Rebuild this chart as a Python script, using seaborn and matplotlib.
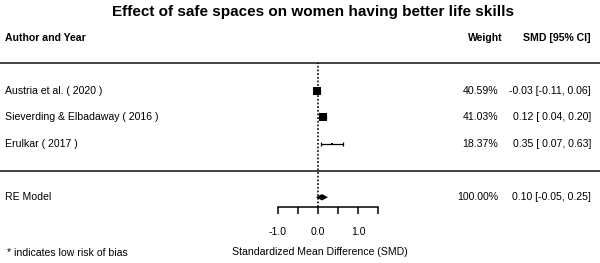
import pandas as pd
import matplotlib.pyplot as plt
import seaborn as sns

sns.set_theme(style="white")
plt.rcParams["font.family"] = ["Liberation Sans", "DejaVu Sans"]
plt.rcParams["text.color"] = "black"
plt.rcParams["xtick.color"] = "black"

## DATA
studies = ["Austria et al. ( 2020 )", "Sieverding & Elbadaway ( 2016 )", "Erulkar ( 2017 )"]
smd = [-0.03, 0.12, 0.35]
ci_low = [-0.11, 0.04, 0.07]
ci_high = [0.06, 0.20, 0.63]
weights = [40.59, 41.03, 18.37]
weight_labels = ["40.59%", "41.03%", "18.37%"]
smd_labels = ["-0.03 [-0.11, 0.06]", "0.12 [ 0.04, 0.20]", "0.35 [ 0.07, 0.63]"]
rows = [3, 2, 1]

re_est, re_low, re_high = 0.10, -0.05, 0.25
re_weight_label = "100.00%"
re_smd_label = "0.10 [-0.05, 0.25]"

axis_ticks = [-1.0, -0.5, 0.0, 0.5, 1.0, 1.5]
axis_labels = ["-1.0", "", "0.0", "", "1.0", ""]

df = pd.DataFrame({"study": studies, "smd": smd, "lo": ci_low, "hi": ci_high,
                   "weight": weights, "row": rows})

## PLOT
fig = plt.figure(figsize=(6, 2.63), dpi=100)
ax = fig.add_axes([0, 0, 1, 1])
ax.set_xlim(-7.95, 7.05)
ax.set_ylim(-3.47, 6.41)
ax.axis("off")

# separators and reference line
ax.axhline(4.05, color="#111111", lw=1.1)
ax.axhline(0.0, color="#111111", lw=1.1)
ax.vlines(0, -1.37, 4.05, color="black", lw=1.1, linestyles=(0, (1.2, 1.2)))

# study estimates
ax.errorbar(df["smd"], df["row"], xerr=[df["smd"] - df["lo"], df["hi"] - df["smd"]],
            fmt="none", ecolor="black", elinewidth=0.9, capsize=1.6, capthick=0.9)
sns.scatterplot(data=df, x="smd", y="row", size="weight", sizes=(4, 34), marker="s",
                color="black", linewidth=0, legend=False, ax=ax, zorder=3)

# summary diamond
h = 0.12
ax.fill([re_low, re_est, re_high, re_est], [-1, -1 + h, -1, -1 - h], color="black", lw=0)

# text columns
fs = 7.6
x_left, x_w, x_smd = -7.825, 4.5, 6.825
ax.text(x_left, 5, "Author and Year", fontsize=fs, fontweight="bold", va="center")
ax.text(4.625, 5, "Weight", fontsize=fs, fontweight="bold", va="center", ha="right")
ax.text(x_smd, 5, "SMD [95% CI]", fontsize=fs, fontweight="bold", va="center", ha="right")
for s, w, m, r in zip(studies, weight_labels, smd_labels, rows):
    ax.text(x_left, r, s, fontsize=fs, va="center")
    ax.text(x_w, r, w, fontsize=fs, va="center", ha="right")
    ax.text(x_smd, r, m, fontsize=fs, va="center", ha="right")
ax.text(x_left, -1, "RE Model", fontsize=fs, va="center")
ax.text(x_w, -1, re_weight_label, fontsize=fs, va="center", ha="right")
ax.text(x_smd, -1, re_smd_label, fontsize=fs, va="center", ha="right")

ax.text(x_left + 0.05, -3.1, "* indicates low risk of bias", fontsize=fs, va="center")
ax.text(0.05, -3.06, "Standardized Mean Difference (SMD)", fontsize=fs, va="center", ha="center")

fig.text(313 / 600, 1 - 12 / 263, "Effect of safe spaces on women having better life skills",
         fontsize=11, fontweight="bold", ha="center", va="center")

# x axis
ax2 = fig.add_axes([278 / 600, (263 - 207) / 263, 100 / 600, 0.01])
ax2.set_xlim(-1, 1.5)
ax2.patch.set_alpha(0)
for side in ["top", "left", "right"]:
    ax2.spines[side].set_visible(False)
ax2.spines["bottom"].set_color("black")
ax2.spines["bottom"].set_linewidth(1.1)
ax2.set_yticks([])
ax2.set_xticks(axis_ticks)
ax2.set_xticklabels(axis_labels)
ax2.tick_params(axis="x", bottom=True, direction="out", length=5, width=1.1,
                color="black", labelsize=fs, pad=9.5)

fig.savefig("out.png", dpi=100)
